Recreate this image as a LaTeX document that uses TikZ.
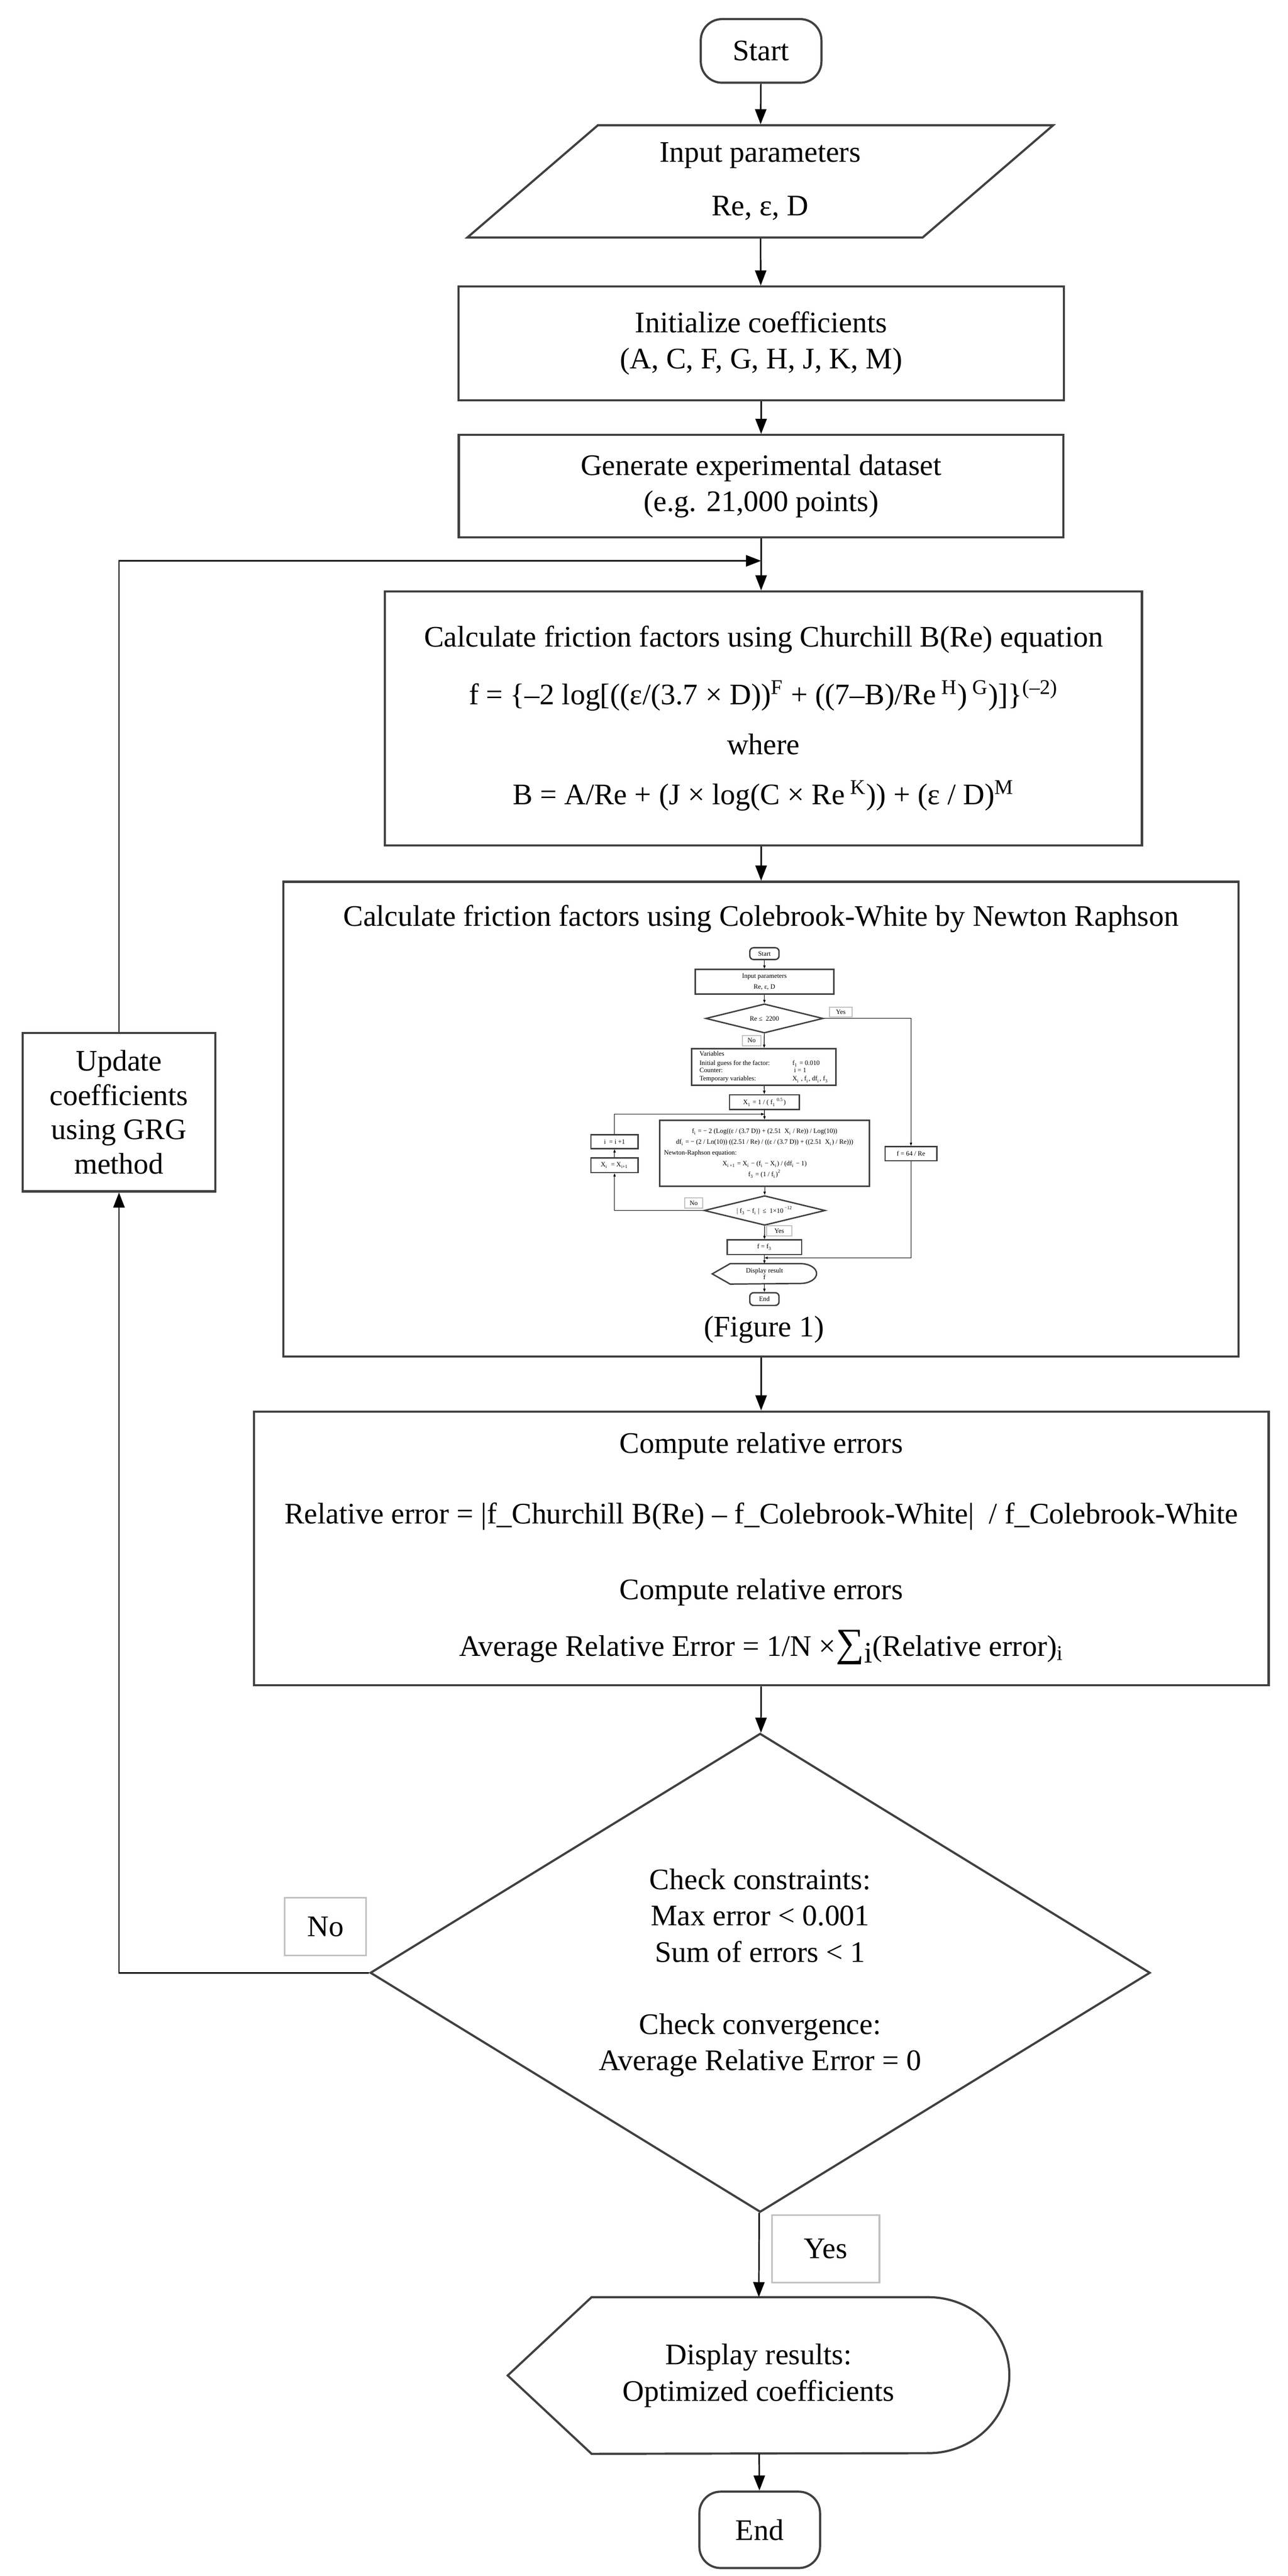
\documentclass[tikz,border=0pt]{standalone}
\usepackage{fontspec}
\setmainfont{Liberation Serif}
\usepackage{tikz}
\usetikzlibrary{shapes.geometric, arrows.meta}
\tikzstyle{terminal} = [rectangle, rounded corners=0.45cm, minimum width=2.56cm, minimum height=1.35cm, line width=1.3pt, draw=boxgray, text centered]
\tikzstyle{process} = [rectangle, line width=1.3pt, draw=boxgray, align=center, inner sep=0pt]
\tikzstyle{io} = [trapezium, trapezium left angle=44, trapezium right angle=136, trapezium stretches=true, line width=1.3pt, draw=boxgray, align=center, inner sep=0pt]
\tikzstyle{decision} = [diamond, aspect=1.6, line width=1.3pt, draw=boxgray, align=center, inner sep=0pt]
\tikzstyle{tag} = [rectangle, line width=1pt, draw=labelgray, inner sep=0pt]
\tikzstyle{outline} = [line width=1.3pt, draw=boxgray]
\tikzstyle{arrow} = [line width=0.85pt, -{Triangle[length=0.32cm, width=0.24cm]}]
% small chart of Figure 1
\tikzstyle{minibox} = [rectangle, line width=0.85pt, draw=boxgray, align=center, inner sep=0pt, font=\fontsize{4}{5}\selectfont]
\tikzstyle{miniterm} = [minibox, rounded corners=0.08cm, minimum width=0.62cm]
\tikzstyle{minidec} = [diamond, aspect=4, line width=0.85pt, draw=boxgray, inner sep=0pt, font=\fontsize{4}{5}\selectfont]
\tikzstyle{minitag} = [rectangle, line width=0.6pt, draw=labelgray, inner sep=0pt, font=\fontsize{4}{5}\selectfont]
\tikzstyle{miniarrow} = [line width=0.4pt, -{Triangle[length=0.07cm, width=0.05cm]}]
\definecolor{boxgray}{RGB}{64,64,64}
\definecolor{labelgray}{RGB}{192,192,192}

\begin{document}
\begin{tikzpicture}[font=\fontsize{18}{22}\selectfont]
      \useasboundingbox (0, 0) rectangle (27.33, -54.66);
      \node (start) at (16.15, -1.08) [terminal] {Start};
      \node (input) at (16.13, -3.85) [io, minimum width=12.44cm, minimum height=2.38cm] {Input parameters\\[0.37cm]Re, ε, D};
      \node (init) at (16.15, -7.285) [process, minimum width=12.85cm, minimum height=2.41cm] {Initialize coefficients\\(A, C, F, G, H, J, K, M)};
      \node (gen) at (16.15, -10.315) [process, minimum width=12.83cm, minimum height=2.17cm] {Generate experimental dataset\\(e.g. 21,000 points)};
      \coordinate (loopin) at (16.15, -11.9);
      \node (church) at (16.2, -15.245) [process, minimum width=16.06cm, minimum height=5.39cm]
            {Calculate friction factors using Churchill B(Re) equation\\[0.45cm]
             f = \{–2 log[((ε/(3.7 × D))\textsuperscript{F} + ((7–B)/Re\textsuperscript{ H})\textsuperscript{ G})]\}\textsuperscript{(–2)}\\[0.28cm]
             where\\[0.29cm]
             B = A/Re + (J × log(C × Re\textsuperscript{ K})) + (ε / D)\textsuperscript{M}};
      \node (cole) at (16.145, -23.745) [process, minimum width=20.27cm, minimum height=10.07cm] {};
      \node (coletitle) at (16.15, -19.50) {Calculate friction factors using Colebrook-White by Newton Raphson};
      \node (colecap) at (16.21, -28.21) {(Figure 1)};
      \node (comp) at (16.155, -32.855) [process, minimum width=21.53cm, minimum height=5.81cm]
            {Compute relative errors\\[0.73cm]
             Relative error = |f\_Churchill B(Re) – f\_Colebrook-White|~ / f\_Colebrook-White\\[0.83cm]
             Compute relative errors\\[0.43cm]
             Average Relative Error = 1/N ×{\fontsize{24}{24}\selectfont ∑}\raisebox{-0.5ex}{i}(Relative error)\textsubscript{i}};
      \node (check) at (16.13, -41.86) [decision, minimum width=16.55cm, minimum height=10.16cm]
            {Check constraints:\\Max error < 0.001\\Sum of errors < 1\\[0.75cm]Check convergence:\\Average Relative Error = 0};
      \node (nolab) at (6.905, -40.88) [tag, minimum width=1.73cm, minimum height=1.22cm] {No};
      \node (yeslab) at (17.52, -47.715) [tag, minimum width=2.28cm, minimum height=1.43cm] {Yes};
      \node (disp) at (16.095, -50.405) [minimum width=10.63cm, minimum height=3.31cm, align=center] {Display results:\\Optimized coefficients};
      \draw [outline] (disp.west) -- ([xshift=1.78cm]disp.north west) -- ([xshift=-1.72cm]disp.north east)
            arc [start angle=90, end angle=-90, x radius=1.72cm, y radius=1.655cm] -- ([xshift=1.78cm]disp.south west) -- cycle;
      \node (endn) at (16.12, -53.68) [terminal, minimum height=1.62cm] {End};
      \node (update) at (2.525, -23.6) [process, minimum width=4.09cm, minimum height=3.36cm, font=\fontsize{18}{20.7}\selectfont]
            {Update\\coefficients\\using GRG\\method};

      \draw [arrow] (start) -- (input);
      \draw [arrow] (input) -- (init);
      \draw [arrow] (init) -- (gen);
      \draw [arrow] (gen) -- (gen |- church.north);
      \draw [arrow] (gen |- church.south) -- (gen |- cole.north);
      \draw [arrow] (gen |- cole.south) -- (gen |- comp.north);
      \draw [arrow] (gen |- comp.south) -- (check);
      \draw [arrow] (check) -- (disp);
      \draw [arrow] (disp) -- (endn);
      \draw [arrow] (check.west) -| (update.south);
      \draw [arrow] (update.north) |- (loopin);

      % Figure 1
      \node (iStart) at (16.22, -20.235) [miniterm, minimum height=0.25cm] {Start};
      \node (iInput) at (16.22, -20.83) [trapezium, trapezium left angle=42, trapezium right angle=138, trapezium stretches=true, minibox, minimum width=2.94cm, minimum height=0.52cm] {Input parameters\\[1.5pt]Re, ε, D};
      \node (iDec1) at (16.22, -21.61) [minidec, minimum width=2.49cm, minimum height=0.62cm] {Re ≤ ~2200};
      \node (iYes1) at (17.84, -21.475) [minitag, minimum width=0.48cm, minimum height=0.21cm] {Yes};
      \node (iNo1) at (15.95, -22.08) [minitag, minimum width=0.40cm, minimum height=0.22cm] {No};
      \node (iVars) at (16.21, -22.64) [minibox, minimum width=3.06cm, minimum height=0.78cm, font=\fontsize{4}{4.4}\selectfont]
            {\begin{tabular}{@{}p{1.97cm}@{}l@{}}Variables & \\[1.2pt] Initial guess for the factor: & f\textsubscript{1} = 0.010\\ Counter: & \ i = 1\\[0.6pt] Temporary variables: & X\textsubscript{i} , f\textsubscript{i}, df\textsubscript{i}, f\textsubscript{3}\end{tabular}};
      \node (iX1) at (16.22, -23.385) [minibox, minimum width=1.48cm, minimum height=0.31cm] {X\textsubscript{1} = 1 / ( f\textsubscript{1}\textsuperscript{ 0.5})};
      \coordinate (iLoop) at (16.22, -23.64);
      \node (iCalc) at (16.225, -24.47) [minibox, minimum width=4.45cm, minimum height=1.40cm, font=\fontsize{4}{6.5}\selectfont]
            {f\textsubscript{i} = − 2 (Log((ε / (3.7 D)) + (2.51 ~X\textsubscript{i} / Re)) / Log(10))\\
             df\textsubscript{i} = − (2 / Ln(10)) ((2.51 / Re) / ((ε / (3.7 D)) + ((2.51 ~X\textsubscript{i}) / Re)))\\
             \makebox[4.27cm][l]{Newton-Raphson equation:}\\
             X\textsubscript{i +1} = X\textsubscript{i} − (f\textsubscript{i} − X\textsubscript{i}) / (df\textsubscript{i} − 1)\\
             f\textsubscript{3} = (1 / f\textsubscript{i})\textsuperscript{2}};
      \node (iInc) at (13.04, -24.225) [minibox, minimum width=1.00cm, minimum height=0.29cm] {i ~= i +1};
      \node (iSwap) at (13.04, -24.725) [minibox, minimum width=1.00cm, minimum height=0.31cm] {X\textsubscript{i} ~= X\textsubscript{i+1}};
      \node (iDec2) at (16.225, -25.685) [minidec, minimum width=2.57cm, minimum height=0.63cm] {| f\textsubscript{3} − f\textsubscript{i} | ~≤ ~1×10\textsuperscript{ −12}};
      \node (iNo2) at (14.72, -25.53) [minitag, minimum width=0.38cm, minimum height=0.22cm] {No};
      \node (iYes2) at (16.535, -26.12) [minitag, minimum width=0.53cm, minimum height=0.22cm] {Yes};
      \node (iF3) at (16.22, -26.465) [minibox, minimum width=1.58cm, minimum height=0.31cm] {f = f\textsubscript{3}};
      \node (iLam) at (19.33, -24.48) [minibox, minimum width=1.10cm, minimum height=0.30cm] {f = 64 / Re};
      \coordinate (iJoin) at (16.22, -26.69);
      \node (iDisp) at (16.22, -27.03) [minimum width=2.20cm, minimum height=0.42cm, inner sep=0pt, align=center, font=\fontsize{4}{4.2}\selectfont] {Display result\\f};
      \draw [line width=0.85pt, draw=boxgray] (iDisp.west) -- ([xshift=0.38cm]iDisp.north west) -- ([xshift=-0.34cm]iDisp.north east)
            arc [start angle=90, end angle=-90, x radius=0.34cm, y radius=0.21cm] -- ([xshift=0.38cm]iDisp.south west) -- cycle;
      \node (iEnd) at (16.22, -27.565) [miniterm, minimum height=0.27cm] {End};

      \draw [miniarrow] (iStart) -- (iInput);
      \draw [miniarrow] (iInput) -- (iDec1);
      \draw [miniarrow] (iDec1) -- (iVars);
      \draw [miniarrow] (iVars) -- (iX1);
      \draw [miniarrow] (iX1) -- (iCalc);
      \draw [miniarrow] (iCalc) -- (iDec2);
      \draw [miniarrow] (iDec2) -- (iF3);
      \draw [miniarrow] (iF3) -- (iDisp);
      \draw [miniarrow] (iDisp) -- (iEnd);
      \draw [miniarrow] (iDec1.east) -| (iLam.north);
      \draw [miniarrow] (iLam.south) |- (iJoin);
      \draw [miniarrow] (iDec2.west) -| (iSwap.south);
      \draw [miniarrow] (iSwap) -- (iInc);
      \draw [miniarrow] (iInc.north) |- (iLoop);
    \end{tikzpicture}
\end{document}
